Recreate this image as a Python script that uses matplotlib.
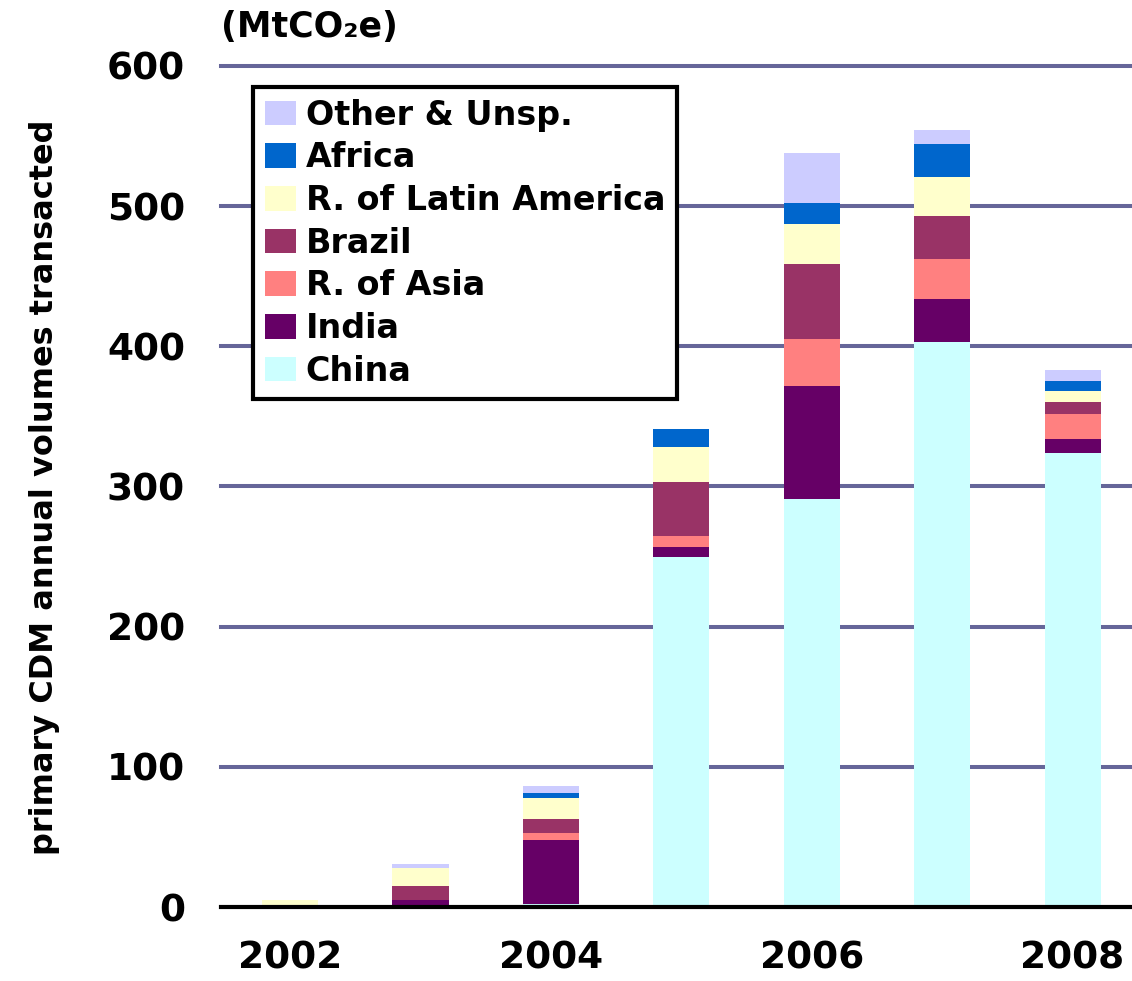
import matplotlib
matplotlib.use("Agg")
import matplotlib.pyplot as plt
from matplotlib.patches import Patch
import numpy as np

# primary CDM volumes by host region, MtCO2e per year
years = [2002, 2003, 2004, 2005, 2006, 2007, 2008]
china = [0, 0, 2, 250, 291, 403, 324]
india = [0, 5, 46, 7, 81, 31, 10]
rest_of_asia = [0, 0, 5, 8, 33, 28, 18]
brazil = [0, 10, 10, 38, 54, 31, 8]
rest_of_latam = [5, 13, 15, 25, 28, 28, 8]
africa = [0, 0, 3, 13, 15, 23, 7]
other_unsp = [0, 3, 5, 0, 36, 10, 8]

series = [
    ("China", china, "#CCFFFF"),
    ("India", india, "#660066"),
    ("R. of Asia", rest_of_asia, "#FF8080"),
    ("Brazil", brazil, "#993366"),
    ("R. of Latin America", rest_of_latam, "#FFFFCC"),
    ("Africa", africa, "#0066CC"),
    ("Other & Unsp.", other_unsp, "#CCCCFF"),
]

W, H = 1132, 981
fig = plt.figure(figsize=(W / 100, H / 100), dpi=100)
ax = fig.add_axes([221 / W, (H - 907) / H, (1130 - 221) / W, (907 - 66) / H])

x = np.arange(len(years))
bottom = np.zeros(len(years))
for name, vals, color in series:
    ax.bar(x, vals, width=0.43, bottom=bottom, color=color, label=name, zorder=3)
    bottom += np.array(vals)

ax.set_ylim(0, 600)
ax.set_xlim(-0.53, 6.44)
ax.set_yticks(range(0, 601, 100))
ax.set_xticks(x[::2])
ax.set_xticklabels([str(y) for y in years[::2]])

for v in range(100, 601, 100):
    ax.axhline(v, color="#666699", lw=2.9, zorder=1, clip_on=False)

for side in ["top", "right", "left"]:
    ax.spines[side].set_visible(False)
ax.spines["bottom"].set_linewidth(3)
ax.spines["bottom"].set_zorder(4)
ax.tick_params(axis="both", length=0, labelsize=27)
ax.tick_params(axis="y", pad=26)
ax.tick_params(axis="x", pad=24)
for lbl in ax.get_xticklabels() + ax.get_yticklabels():
    lbl.set_fontweight("bold")

handles = [Patch(facecolor=c, edgecolor="none") for _, _, c in series][::-1]
labels = [n for n, _, _ in series][::-1]
leg = ax.legend(handles, labels, loc="upper left",
                bbox_to_anchor=((253 - 221) / (1130 - 221), 1 - (87 - 66) / (907 - 66)),
                prop={"weight": "bold", "size": 24}, frameon=True, fancybox=False,
                framealpha=1, borderaxespad=0, handlelength=0.93, handleheight=0.75,
                handletextpad=0.3, labelspacing=0.29, borderpad=0.35)
leg.get_frame().set_edgecolor("black")
leg.get_frame().set_linewidth(3)
leg.set_zorder(5)

fig.text(45 / W, 1 - 487 / H, "primary CDM annual volumes transacted",
         rotation=90, ha="center", va="center", fontsize=23, fontweight="bold")
fig.text(221 / W, 1 - 27 / H, "(MtCO\u2082e)", ha="left", va="center",
         fontsize=25, fontweight="bold")

fig.savefig("out.png", dpi=100)
